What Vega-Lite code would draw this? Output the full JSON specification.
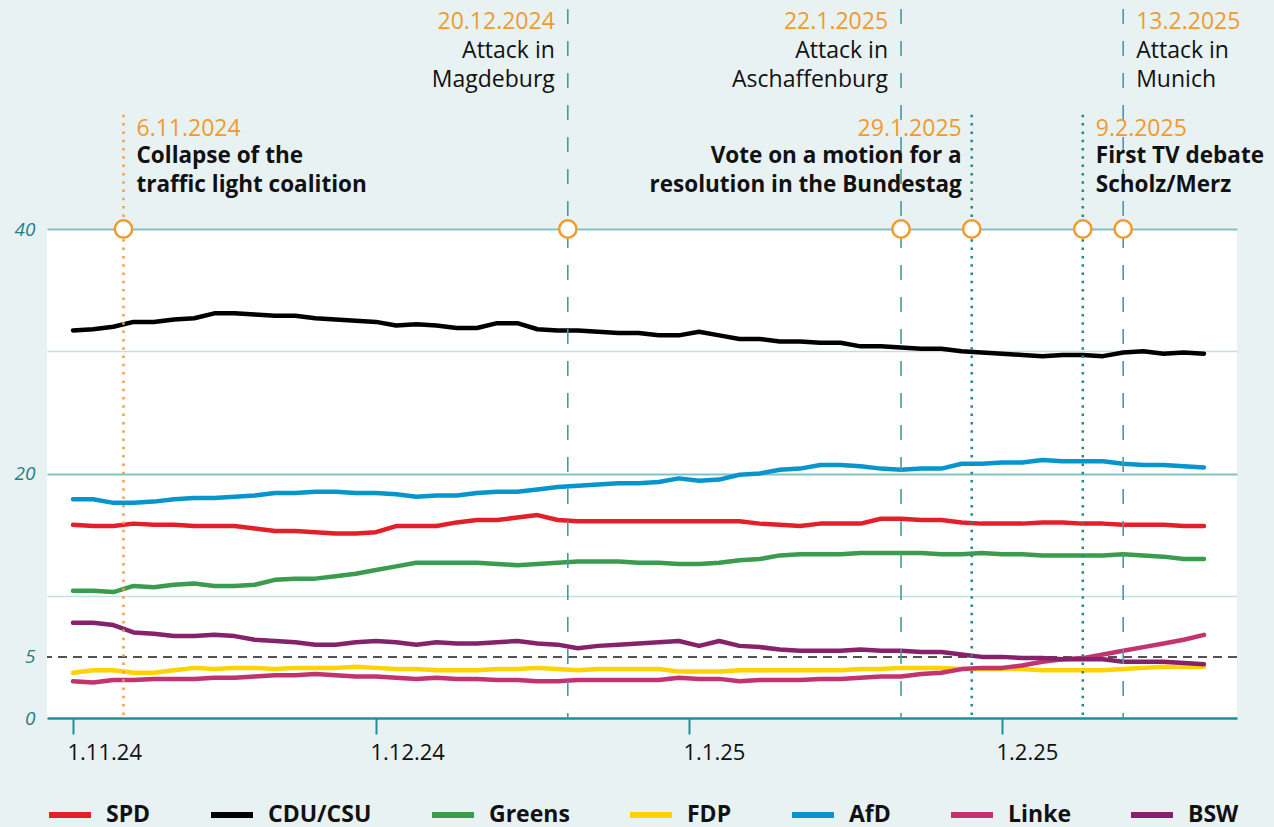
{
"$schema": "https://vega.github.io/schema/vega-lite/v6.json",
"width": 1190,
"height": 489,
"autosize": {"type": "none"},
"padding": {"left": 47, "top": 229, "right": 37, "bottom": 109},
"background": "#e8f2f3",
"config": {"font": "Open Sans", "view": {"fill": "#ffffff", "stroke": null}},
"datasets": {
"events": [
{"date": "2024-11-06", "label": "6.11.2024", "text": "Collapse of the\ntraffic light coalition", "type": "political"},
{"date": "2024-12-20", "label": "20.12.2024", "text": "Attack in\nMagdeburg", "type": "attack"},
{"date": "2025-01-22", "label": "22.1.2025", "text": "Attack in\nAschaffenburg", "type": "attack"},
{"date": "2025-01-29", "label": "29.1.2025", "text": "Vote on a motion for a\nresolution in the Bundestag", "type": "political"},
{"date": "2025-02-09", "label": "9.2.2025", "text": "First TV debate\nScholz/Merz", "type": "political"},
{"date": "2025-02-13", "label": "13.2.2025", "text": "Attack in\nMunich", "type": "attack"}
],
"polls": [
{"date":"2024-11-01","party":"SPD","value":15.8},{"date":"2024-11-01","party":"CDU/CSU","value":31.7},{"date":"2024-11-01","party":"Greens","value":10.4},{"date":"2024-11-01","party":"FDP","value":3.7},{"date":"2024-11-01","party":"AfD","value":17.9},{"date":"2024-11-01","party":"Linke","value":3.0},{"date":"2024-11-01","party":"BSW","value":7.8},
{"date":"2024-11-03","party":"SPD","value":15.7},{"date":"2024-11-03","party":"CDU/CSU","value":31.8},{"date":"2024-11-03","party":"Greens","value":10.4},{"date":"2024-11-03","party":"FDP","value":3.9},{"date":"2024-11-03","party":"AfD","value":17.9},{"date":"2024-11-03","party":"Linke","value":2.9},{"date":"2024-11-03","party":"BSW","value":7.8},
{"date":"2024-11-05","party":"SPD","value":15.7},{"date":"2024-11-05","party":"CDU/CSU","value":32.0},{"date":"2024-11-05","party":"Greens","value":10.3},{"date":"2024-11-05","party":"FDP","value":3.9},{"date":"2024-11-05","party":"AfD","value":17.6},{"date":"2024-11-05","party":"Linke","value":3.1},{"date":"2024-11-05","party":"BSW","value":7.6},
{"date":"2024-11-07","party":"SPD","value":15.9},{"date":"2024-11-07","party":"CDU/CSU","value":32.4},{"date":"2024-11-07","party":"Greens","value":10.8},{"date":"2024-11-07","party":"FDP","value":3.7},{"date":"2024-11-07","party":"AfD","value":17.6},{"date":"2024-11-07","party":"Linke","value":3.1},{"date":"2024-11-07","party":"BSW","value":7.0},
{"date":"2024-11-09","party":"SPD","value":15.8},{"date":"2024-11-09","party":"CDU/CSU","value":32.4},{"date":"2024-11-09","party":"Greens","value":10.7},{"date":"2024-11-09","party":"FDP","value":3.7},{"date":"2024-11-09","party":"AfD","value":17.7},{"date":"2024-11-09","party":"Linke","value":3.2},{"date":"2024-11-09","party":"BSW","value":6.9},
{"date":"2024-11-11","party":"SPD","value":15.8},{"date":"2024-11-11","party":"CDU/CSU","value":32.6},{"date":"2024-11-11","party":"Greens","value":10.9},{"date":"2024-11-11","party":"FDP","value":3.9},{"date":"2024-11-11","party":"AfD","value":17.9},{"date":"2024-11-11","party":"Linke","value":3.2},{"date":"2024-11-11","party":"BSW","value":6.7},
{"date":"2024-11-13","party":"SPD","value":15.7},{"date":"2024-11-13","party":"CDU/CSU","value":32.7},{"date":"2024-11-13","party":"Greens","value":11.0},{"date":"2024-11-13","party":"FDP","value":4.1},{"date":"2024-11-13","party":"AfD","value":18.0},{"date":"2024-11-13","party":"Linke","value":3.2},{"date":"2024-11-13","party":"BSW","value":6.7},
{"date":"2024-11-15","party":"SPD","value":15.7},{"date":"2024-11-15","party":"CDU/CSU","value":33.1},{"date":"2024-11-15","party":"Greens","value":10.8},{"date":"2024-11-15","party":"FDP","value":4.0},{"date":"2024-11-15","party":"AfD","value":18.0},{"date":"2024-11-15","party":"Linke","value":3.3},{"date":"2024-11-15","party":"BSW","value":6.8},
{"date":"2024-11-17","party":"SPD","value":15.7},{"date":"2024-11-17","party":"CDU/CSU","value":33.1},{"date":"2024-11-17","party":"Greens","value":10.8},{"date":"2024-11-17","party":"FDP","value":4.1},{"date":"2024-11-17","party":"AfD","value":18.1},{"date":"2024-11-17","party":"Linke","value":3.3},{"date":"2024-11-17","party":"BSW","value":6.7},
{"date":"2024-11-19","party":"SPD","value":15.5},{"date":"2024-11-19","party":"CDU/CSU","value":33.0},{"date":"2024-11-19","party":"Greens","value":10.9},{"date":"2024-11-19","party":"FDP","value":4.1},{"date":"2024-11-19","party":"AfD","value":18.2},{"date":"2024-11-19","party":"Linke","value":3.4},{"date":"2024-11-19","party":"BSW","value":6.4},
{"date":"2024-11-21","party":"SPD","value":15.3},{"date":"2024-11-21","party":"CDU/CSU","value":32.9},{"date":"2024-11-21","party":"Greens","value":11.3},{"date":"2024-11-21","party":"FDP","value":4.0},{"date":"2024-11-21","party":"AfD","value":18.4},{"date":"2024-11-21","party":"Linke","value":3.5},{"date":"2024-11-21","party":"BSW","value":6.3},
{"date":"2024-11-23","party":"SPD","value":15.3},{"date":"2024-11-23","party":"CDU/CSU","value":32.9},{"date":"2024-11-23","party":"Greens","value":11.4},{"date":"2024-11-23","party":"FDP","value":4.1},{"date":"2024-11-23","party":"AfD","value":18.4},{"date":"2024-11-23","party":"Linke","value":3.5},{"date":"2024-11-23","party":"BSW","value":6.2},
{"date":"2024-11-25","party":"SPD","value":15.2},{"date":"2024-11-25","party":"CDU/CSU","value":32.7},{"date":"2024-11-25","party":"Greens","value":11.4},{"date":"2024-11-25","party":"FDP","value":4.1},{"date":"2024-11-25","party":"AfD","value":18.5},{"date":"2024-11-25","party":"Linke","value":3.6},{"date":"2024-11-25","party":"BSW","value":6.0},
{"date":"2024-11-27","party":"SPD","value":15.1},{"date":"2024-11-27","party":"CDU/CSU","value":32.6},{"date":"2024-11-27","party":"Greens","value":11.6},{"date":"2024-11-27","party":"FDP","value":4.1},{"date":"2024-11-27","party":"AfD","value":18.5},{"date":"2024-11-27","party":"Linke","value":3.5},{"date":"2024-11-27","party":"BSW","value":6.0},
{"date":"2024-11-29","party":"SPD","value":15.1},{"date":"2024-11-29","party":"CDU/CSU","value":32.5},{"date":"2024-11-29","party":"Greens","value":11.8},{"date":"2024-11-29","party":"FDP","value":4.2},{"date":"2024-11-29","party":"AfD","value":18.4},{"date":"2024-11-29","party":"Linke","value":3.4},{"date":"2024-11-29","party":"BSW","value":6.2},
{"date":"2024-12-01","party":"SPD","value":15.2},{"date":"2024-12-01","party":"CDU/CSU","value":32.4},{"date":"2024-12-01","party":"Greens","value":12.1},{"date":"2024-12-01","party":"FDP","value":4.1},{"date":"2024-12-01","party":"AfD","value":18.4},{"date":"2024-12-01","party":"Linke","value":3.4},{"date":"2024-12-01","party":"BSW","value":6.3},
{"date":"2024-12-03","party":"SPD","value":15.7},{"date":"2024-12-03","party":"CDU/CSU","value":32.1},{"date":"2024-12-03","party":"Greens","value":12.4},{"date":"2024-12-03","party":"FDP","value":4.0},{"date":"2024-12-03","party":"AfD","value":18.3},{"date":"2024-12-03","party":"Linke","value":3.3},{"date":"2024-12-03","party":"BSW","value":6.2},
{"date":"2024-12-05","party":"SPD","value":15.7},{"date":"2024-12-05","party":"CDU/CSU","value":32.2},{"date":"2024-12-05","party":"Greens","value":12.7},{"date":"2024-12-05","party":"FDP","value":4.0},{"date":"2024-12-05","party":"AfD","value":18.1},{"date":"2024-12-05","party":"Linke","value":3.2},{"date":"2024-12-05","party":"BSW","value":6.0},
{"date":"2024-12-07","party":"SPD","value":15.7},{"date":"2024-12-07","party":"CDU/CSU","value":32.1},{"date":"2024-12-07","party":"Greens","value":12.7},{"date":"2024-12-07","party":"FDP","value":3.9},{"date":"2024-12-07","party":"AfD","value":18.2},{"date":"2024-12-07","party":"Linke","value":3.3},{"date":"2024-12-07","party":"BSW","value":6.2},
{"date":"2024-12-09","party":"SPD","value":16.0},{"date":"2024-12-09","party":"CDU/CSU","value":31.9},{"date":"2024-12-09","party":"Greens","value":12.7},{"date":"2024-12-09","party":"FDP","value":3.9},{"date":"2024-12-09","party":"AfD","value":18.2},{"date":"2024-12-09","party":"Linke","value":3.2},{"date":"2024-12-09","party":"BSW","value":6.1},
{"date":"2024-12-11","party":"SPD","value":16.2},{"date":"2024-12-11","party":"CDU/CSU","value":31.9},{"date":"2024-12-11","party":"Greens","value":12.7},{"date":"2024-12-11","party":"FDP","value":3.9},{"date":"2024-12-11","party":"AfD","value":18.4},{"date":"2024-12-11","party":"Linke","value":3.2},{"date":"2024-12-11","party":"BSW","value":6.1},
{"date":"2024-12-13","party":"SPD","value":16.2},{"date":"2024-12-13","party":"CDU/CSU","value":32.3},{"date":"2024-12-13","party":"Greens","value":12.6},{"date":"2024-12-13","party":"FDP","value":4.0},{"date":"2024-12-13","party":"AfD","value":18.5},{"date":"2024-12-13","party":"Linke","value":3.1},{"date":"2024-12-13","party":"BSW","value":6.2},
{"date":"2024-12-15","party":"SPD","value":16.4},{"date":"2024-12-15","party":"CDU/CSU","value":32.3},{"date":"2024-12-15","party":"Greens","value":12.5},{"date":"2024-12-15","party":"FDP","value":4.0},{"date":"2024-12-15","party":"AfD","value":18.5},{"date":"2024-12-15","party":"Linke","value":3.1},{"date":"2024-12-15","party":"BSW","value":6.3},
{"date":"2024-12-17","party":"SPD","value":16.6},{"date":"2024-12-17","party":"CDU/CSU","value":31.8},{"date":"2024-12-17","party":"Greens","value":12.6},{"date":"2024-12-17","party":"FDP","value":4.1},{"date":"2024-12-17","party":"AfD","value":18.7},{"date":"2024-12-17","party":"Linke","value":3.0},{"date":"2024-12-17","party":"BSW","value":6.1},
{"date":"2024-12-19","party":"SPD","value":16.2},{"date":"2024-12-19","party":"CDU/CSU","value":31.7},{"date":"2024-12-19","party":"Greens","value":12.7},{"date":"2024-12-19","party":"FDP","value":4.0},{"date":"2024-12-19","party":"AfD","value":18.9},{"date":"2024-12-19","party":"Linke","value":3.0},{"date":"2024-12-19","party":"BSW","value":6.0},
{"date":"2024-12-21","party":"SPD","value":16.1},{"date":"2024-12-21","party":"CDU/CSU","value":31.7},{"date":"2024-12-21","party":"Greens","value":12.8},{"date":"2024-12-21","party":"FDP","value":3.9},{"date":"2024-12-21","party":"AfD","value":19.0},{"date":"2024-12-21","party":"Linke","value":3.1},{"date":"2024-12-21","party":"BSW","value":5.7},
{"date":"2024-12-23","party":"SPD","value":16.1},{"date":"2024-12-23","party":"CDU/CSU","value":31.6},{"date":"2024-12-23","party":"Greens","value":12.8},{"date":"2024-12-23","party":"FDP","value":4.0},{"date":"2024-12-23","party":"AfD","value":19.1},{"date":"2024-12-23","party":"Linke","value":3.1},{"date":"2024-12-23","party":"BSW","value":5.9},
{"date":"2024-12-25","party":"SPD","value":16.1},{"date":"2024-12-25","party":"CDU/CSU","value":31.5},{"date":"2024-12-25","party":"Greens","value":12.8},{"date":"2024-12-25","party":"FDP","value":4.0},{"date":"2024-12-25","party":"AfD","value":19.2},{"date":"2024-12-25","party":"Linke","value":3.1},{"date":"2024-12-25","party":"BSW","value":6.0},
{"date":"2024-12-27","party":"SPD","value":16.1},{"date":"2024-12-27","party":"CDU/CSU","value":31.5},{"date":"2024-12-27","party":"Greens","value":12.7},{"date":"2024-12-27","party":"FDP","value":4.0},{"date":"2024-12-27","party":"AfD","value":19.2},{"date":"2024-12-27","party":"Linke","value":3.1},{"date":"2024-12-27","party":"BSW","value":6.1},
{"date":"2024-12-29","party":"SPD","value":16.1},{"date":"2024-12-29","party":"CDU/CSU","value":31.3},{"date":"2024-12-29","party":"Greens","value":12.7},{"date":"2024-12-29","party":"FDP","value":4.0},{"date":"2024-12-29","party":"AfD","value":19.3},{"date":"2024-12-29","party":"Linke","value":3.1},{"date":"2024-12-29","party":"BSW","value":6.2},
{"date":"2024-12-31","party":"SPD","value":16.1},{"date":"2024-12-31","party":"CDU/CSU","value":31.3},{"date":"2024-12-31","party":"Greens","value":12.6},{"date":"2024-12-31","party":"FDP","value":3.8},{"date":"2024-12-31","party":"AfD","value":19.6},{"date":"2024-12-31","party":"Linke","value":3.3},{"date":"2024-12-31","party":"BSW","value":6.3},
{"date":"2025-01-02","party":"SPD","value":16.1},{"date":"2025-01-02","party":"CDU/CSU","value":31.6},{"date":"2025-01-02","party":"Greens","value":12.6},{"date":"2025-01-02","party":"FDP","value":3.8},{"date":"2025-01-02","party":"AfD","value":19.4},{"date":"2025-01-02","party":"Linke","value":3.2},{"date":"2025-01-02","party":"BSW","value":5.9},
{"date":"2025-01-04","party":"SPD","value":16.1},{"date":"2025-01-04","party":"CDU/CSU","value":31.3},{"date":"2025-01-04","party":"Greens","value":12.7},{"date":"2025-01-04","party":"FDP","value":3.8},{"date":"2025-01-04","party":"AfD","value":19.5},{"date":"2025-01-04","party":"Linke","value":3.2},{"date":"2025-01-04","party":"BSW","value":6.3},
{"date":"2025-01-06","party":"SPD","value":16.1},{"date":"2025-01-06","party":"CDU/CSU","value":31.0},{"date":"2025-01-06","party":"Greens","value":12.9},{"date":"2025-01-06","party":"FDP","value":3.9},{"date":"2025-01-06","party":"AfD","value":19.9},{"date":"2025-01-06","party":"Linke","value":3.0},{"date":"2025-01-06","party":"BSW","value":5.9},
{"date":"2025-01-08","party":"SPD","value":15.9},{"date":"2025-01-08","party":"CDU/CSU","value":31.0},{"date":"2025-01-08","party":"Greens","value":13.0},{"date":"2025-01-08","party":"FDP","value":3.9},{"date":"2025-01-08","party":"AfD","value":20.0},{"date":"2025-01-08","party":"Linke","value":3.1},{"date":"2025-01-08","party":"BSW","value":5.8},
{"date":"2025-01-10","party":"SPD","value":15.8},{"date":"2025-01-10","party":"CDU/CSU","value":30.8},{"date":"2025-01-10","party":"Greens","value":13.3},{"date":"2025-01-10","party":"FDP","value":3.9},{"date":"2025-01-10","party":"AfD","value":20.3},{"date":"2025-01-10","party":"Linke","value":3.1},{"date":"2025-01-10","party":"BSW","value":5.6},
{"date":"2025-01-12","party":"SPD","value":15.7},{"date":"2025-01-12","party":"CDU/CSU","value":30.8},{"date":"2025-01-12","party":"Greens","value":13.4},{"date":"2025-01-12","party":"FDP","value":3.9},{"date":"2025-01-12","party":"AfD","value":20.4},{"date":"2025-01-12","party":"Linke","value":3.1},{"date":"2025-01-12","party":"BSW","value":5.5},
{"date":"2025-01-14","party":"SPD","value":15.9},{"date":"2025-01-14","party":"CDU/CSU","value":30.7},{"date":"2025-01-14","party":"Greens","value":13.4},{"date":"2025-01-14","party":"FDP","value":3.9},{"date":"2025-01-14","party":"AfD","value":20.7},{"date":"2025-01-14","party":"Linke","value":3.2},{"date":"2025-01-14","party":"BSW","value":5.5},
{"date":"2025-01-16","party":"SPD","value":15.9},{"date":"2025-01-16","party":"CDU/CSU","value":30.7},{"date":"2025-01-16","party":"Greens","value":13.4},{"date":"2025-01-16","party":"FDP","value":3.9},{"date":"2025-01-16","party":"AfD","value":20.7},{"date":"2025-01-16","party":"Linke","value":3.2},{"date":"2025-01-16","party":"BSW","value":5.5},
{"date":"2025-01-18","party":"SPD","value":15.9},{"date":"2025-01-18","party":"CDU/CSU","value":30.4},{"date":"2025-01-18","party":"Greens","value":13.5},{"date":"2025-01-18","party":"FDP","value":4.0},{"date":"2025-01-18","party":"AfD","value":20.6},{"date":"2025-01-18","party":"Linke","value":3.3},{"date":"2025-01-18","party":"BSW","value":5.6},
{"date":"2025-01-20","party":"SPD","value":16.3},{"date":"2025-01-20","party":"CDU/CSU","value":30.4},{"date":"2025-01-20","party":"Greens","value":13.5},{"date":"2025-01-20","party":"FDP","value":4.0},{"date":"2025-01-20","party":"AfD","value":20.4},{"date":"2025-01-20","party":"Linke","value":3.4},{"date":"2025-01-20","party":"BSW","value":5.5},
{"date":"2025-01-22","party":"SPD","value":16.3},{"date":"2025-01-22","party":"CDU/CSU","value":30.3},{"date":"2025-01-22","party":"Greens","value":13.5},{"date":"2025-01-22","party":"FDP","value":4.1},{"date":"2025-01-22","party":"AfD","value":20.3},{"date":"2025-01-22","party":"Linke","value":3.4},{"date":"2025-01-22","party":"BSW","value":5.5},
{"date":"2025-01-24","party":"SPD","value":16.2},{"date":"2025-01-24","party":"CDU/CSU","value":30.2},{"date":"2025-01-24","party":"Greens","value":13.5},{"date":"2025-01-24","party":"FDP","value":4.1},{"date":"2025-01-24","party":"AfD","value":20.4},{"date":"2025-01-24","party":"Linke","value":3.6},{"date":"2025-01-24","party":"BSW","value":5.4},
{"date":"2025-01-26","party":"SPD","value":16.2},{"date":"2025-01-26","party":"CDU/CSU","value":30.2},{"date":"2025-01-26","party":"Greens","value":13.4},{"date":"2025-01-26","party":"FDP","value":4.1},{"date":"2025-01-26","party":"AfD","value":20.4},{"date":"2025-01-26","party":"Linke","value":3.7},{"date":"2025-01-26","party":"BSW","value":5.4},
{"date":"2025-01-28","party":"SPD","value":16.0},{"date":"2025-01-28","party":"CDU/CSU","value":30.0},{"date":"2025-01-28","party":"Greens","value":13.4},{"date":"2025-01-28","party":"FDP","value":4.0},{"date":"2025-01-28","party":"AfD","value":20.8},{"date":"2025-01-28","party":"Linke","value":4.0},{"date":"2025-01-28","party":"BSW","value":5.2},
{"date":"2025-01-30","party":"SPD","value":15.9},{"date":"2025-01-30","party":"CDU/CSU","value":29.9},{"date":"2025-01-30","party":"Greens","value":13.5},{"date":"2025-01-30","party":"FDP","value":4.0},{"date":"2025-01-30","party":"AfD","value":20.8},{"date":"2025-01-30","party":"Linke","value":4.1},{"date":"2025-01-30","party":"BSW","value":5.0},
{"date":"2025-02-01","party":"SPD","value":15.9},{"date":"2025-02-01","party":"CDU/CSU","value":29.8},{"date":"2025-02-01","party":"Greens","value":13.4},{"date":"2025-02-01","party":"FDP","value":4.0},{"date":"2025-02-01","party":"AfD","value":20.9},{"date":"2025-02-01","party":"Linke","value":4.1},{"date":"2025-02-01","party":"BSW","value":5.0},
{"date":"2025-02-03","party":"SPD","value":15.9},{"date":"2025-02-03","party":"CDU/CSU","value":29.7},{"date":"2025-02-03","party":"Greens","value":13.4},{"date":"2025-02-03","party":"FDP","value":4.0},{"date":"2025-02-03","party":"AfD","value":20.9},{"date":"2025-02-03","party":"Linke","value":4.3},{"date":"2025-02-03","party":"BSW","value":4.9},
{"date":"2025-02-05","party":"SPD","value":16.0},{"date":"2025-02-05","party":"CDU/CSU","value":29.6},{"date":"2025-02-05","party":"Greens","value":13.3},{"date":"2025-02-05","party":"FDP","value":3.9},{"date":"2025-02-05","party":"AfD","value":21.1},{"date":"2025-02-05","party":"Linke","value":4.6},{"date":"2025-02-05","party":"BSW","value":4.9},
{"date":"2025-02-07","party":"SPD","value":16.0},{"date":"2025-02-07","party":"CDU/CSU","value":29.7},{"date":"2025-02-07","party":"Greens","value":13.3},{"date":"2025-02-07","party":"FDP","value":3.9},{"date":"2025-02-07","party":"AfD","value":21.0},{"date":"2025-02-07","party":"Linke","value":4.8},{"date":"2025-02-07","party":"BSW","value":4.8},
{"date":"2025-02-09","party":"SPD","value":15.9},{"date":"2025-02-09","party":"CDU/CSU","value":29.7},{"date":"2025-02-09","party":"Greens","value":13.3},{"date":"2025-02-09","party":"FDP","value":3.9},{"date":"2025-02-09","party":"AfD","value":21.0},{"date":"2025-02-09","party":"Linke","value":4.9},{"date":"2025-02-09","party":"BSW","value":4.8},
{"date":"2025-02-11","party":"SPD","value":15.9},{"date":"2025-02-11","party":"CDU/CSU","value":29.6},{"date":"2025-02-11","party":"Greens","value":13.3},{"date":"2025-02-11","party":"FDP","value":3.9},{"date":"2025-02-11","party":"AfD","value":21.0},{"date":"2025-02-11","party":"Linke","value":5.2},{"date":"2025-02-11","party":"BSW","value":4.8},
{"date":"2025-02-13","party":"SPD","value":15.8},{"date":"2025-02-13","party":"CDU/CSU","value":29.9},{"date":"2025-02-13","party":"Greens","value":13.4},{"date":"2025-02-13","party":"FDP","value":4.0},{"date":"2025-02-13","party":"AfD","value":20.8},{"date":"2025-02-13","party":"Linke","value":5.5},{"date":"2025-02-13","party":"BSW","value":4.6},
{"date":"2025-02-15","party":"SPD","value":15.8},{"date":"2025-02-15","party":"CDU/CSU","value":30.0},{"date":"2025-02-15","party":"Greens","value":13.3},{"date":"2025-02-15","party":"FDP","value":4.1},{"date":"2025-02-15","party":"AfD","value":20.7},{"date":"2025-02-15","party":"Linke","value":5.8},{"date":"2025-02-15","party":"BSW","value":4.6},
{"date":"2025-02-17","party":"SPD","value":15.8},{"date":"2025-02-17","party":"CDU/CSU","value":29.8},{"date":"2025-02-17","party":"Greens","value":13.2},{"date":"2025-02-17","party":"FDP","value":4.2},{"date":"2025-02-17","party":"AfD","value":20.7},{"date":"2025-02-17","party":"Linke","value":6.1},{"date":"2025-02-17","party":"BSW","value":4.6},
{"date":"2025-02-19","party":"SPD","value":15.7},{"date":"2025-02-19","party":"CDU/CSU","value":29.9},{"date":"2025-02-19","party":"Greens","value":13.0},{"date":"2025-02-19","party":"FDP","value":4.2},{"date":"2025-02-19","party":"AfD","value":20.6},{"date":"2025-02-19","party":"Linke","value":6.4},{"date":"2025-02-19","party":"BSW","value":4.5},
{"date":"2025-02-21","party":"SPD","value":15.7},{"date":"2025-02-21","party":"CDU/CSU","value":29.8},{"date":"2025-02-21","party":"Greens","value":13.0},{"date":"2025-02-21","party":"FDP","value":4.2},{"date":"2025-02-21","party":"AfD","value":20.5},{"date":"2025-02-21","party":"Linke","value":6.8},{"date":"2025-02-21","party":"BSW","value":4.4}
]
},
"layer": [
{
"data": {"values": [{}]},
"mark": {"type": "rule", "color": "#1a1a1a", "strokeDash": [9, 6], "strokeWidth": 1.5},
"encoding": {"y": {"datum": 5, "type": "quantitative"}}
},
{
"data": {"name": "polls"},
"mark": {"type": "line", "strokeWidth": 4.5, "strokeJoin": "round", "strokeCap": "round"},
"encoding": {
"x": {"field": "date", "type": "temporal",
"scale": {"type": "utc", "domain": [{"year": 2024, "month": 10, "date": 29, "hours": 10, "minutes": 12, "utc": true}, {"year": 2025, "month": 2, "date": 24, "hours": 6, "minutes": 30, "utc": true}]},
"axis": {"title": null, "values": [{"year": 2024, "month": 11, "date": 1, "utc": true}, {"year": 2024, "month": 12, "date": 1, "utc": true}, {"year": 2025, "month": 1, "date": 1, "utc": true}, {"year": 2025, "month": 2, "date": 1, "utc": true}],
"format": "%-d.%-m.%y", "grid": false, "domainColor": "#1d9199", "domainWidth": 2.5, "tickColor": "#1d9199", "tickWidth": 2, "tickSize": 16, "labelFontSize": 22, "labelColor": "#111111", "labelPadding": 8, "labelAlign": "left", "labelOffset": -6, "labelFlush": false, "labelOverlap": false}},
"y": {"field": "value", "type": "quantitative",
"scale": {"domain": [0, 40], "nice": false},
"axis": {"title": null, "values": [0, 5, 10, 20, 30, 40], "labelExpr": "datum.value == 10 || datum.value == 30 ? '' : datum.label",
"domain": false, "ticks": false, "tickSize": 0, "labelFontStyle": "italic", "labelColor": "#1e7f87", "labelFontSize": 19, "labelPadding": 12, "labelFlush": false, "labelOverlap": false,
"grid": true,
"gridColor": {"condition": {"test": "datum.value == 20 || datum.value == 40", "value": "#84c1c4"}, "value": "#c4dfe0"},
"gridWidth": {"condition": {"test": "datum.value == 20 || datum.value == 40", "value": 2}, "value": 1.5},
"gridOpacity": {"condition": {"test": "datum.value < 10", "value": 0}, "value": 1}}},
"color": {"field": "party", "type": "nominal",
"scale": {"domain": ["SPD", "CDU/CSU", "Greens", "FDP", "AfD", "Linke", "BSW"], "range": ["#e3202a", "#000000", "#3b9b4e", "#ffd200", "#0795cd", "#c2336f", "#86226b"]},
"legend": {"title": null, "orient": "none", "legendX": -1, "legendY": 562, "direction": "horizontal", "columns": 7, "symbolType": "stroke", "symbolSize": 1764, "symbolStrokeWidth": 6, "labelFontSize": 23, "labelFontWeight": "bold", "labelColor": "#111111", "labelOffset": 12, "columnPadding": 48, "padding": 0}}
}
},
{
"data": {"name": "events"},
"transform": [{"filter": "datum.type === 'attack'"}],
"mark": {"type": "rule", "color": "#3f9ea4", "strokeWidth": 1.6, "strokeDash": [15, 17]},
"encoding": {"x": {"field": "date", "type": "temporal"}, "y": {"datum": 58}, "y2": {"datum": 0}}
},
{
"data": {"name": "events"},
"transform": [{"filter": "datum.type === 'political' && datum.label !== '6.11.2024'"}],
"mark": {"type": "rule", "color": "#1f8a90", "strokeWidth": 2.5, "strokeDash": [2.5, 5.8]},
"encoding": {"x": {"field": "date", "type": "temporal"}, "y": {"datum": 49.34}, "y2": {"datum": 0}}
},
{
"data": {"name": "events"},
"transform": [{"filter": "datum.label === '6.11.2024'"}],
"mark": {"type": "rule", "color": "#f4a03c", "strokeWidth": 2.5, "strokeDash": [2.5, 5.8]},
"encoding": {"x": {"field": "date", "type": "temporal"}, "y": {"datum": 49.34}, "y2": {"datum": 0}}
},
{
"data": {"name": "events"},
"mark": {"type": "point", "shape": "circle", "filled": true, "fill": "#ffffff", "stroke": "#f39a2b", "strokeWidth": 2.5, "size": 300, "opacity": 1},
"encoding": {"x": {"field": "date", "type": "temporal"}, "y": {"datum": 40}}
},
{
"data": {"name": "events"},
"transform": [{"filter": {"field": "label", "oneOf": ["20.12.2024", "22.1.2025"]}}],
"mark": {"type": "text", "align": "right", "baseline": "middle", "dx": -13, "fontSize": 23, "color": "#f29a2e"},
"encoding": {"x": {"field": "date", "type": "temporal"}, "y": {"datum": 56.9}, "text": {"field": "label"}}
},
{
"data": {"name": "events"},
"transform": [{"filter": {"field": "label", "oneOf": ["13.2.2025"]}}],
"mark": {"type": "text", "align": "left", "baseline": "middle", "dx": 13, "fontSize": 23, "color": "#f29a2e"},
"encoding": {"x": {"field": "date", "type": "temporal"}, "y": {"datum": 56.9}, "text": {"field": "label"}}
},
{
"data": {"name": "events"},
"transform": [{"filter": {"field": "label", "oneOf": ["29.1.2025"]}}],
"mark": {"type": "text", "align": "right", "baseline": "middle", "dx": -10, "fontSize": 23, "color": "#f29a2e"},
"encoding": {"x": {"field": "date", "type": "temporal"}, "y": {"datum": 48.2}, "text": {"field": "label"}}
},
{
"data": {"name": "events"},
"transform": [{"filter": {"field": "label", "oneOf": ["6.11.2024", "9.2.2025"]}}],
"mark": {"type": "text", "align": "left", "baseline": "middle", "dx": 13, "fontSize": 23, "color": "#f29a2e"},
"encoding": {"x": {"field": "date", "type": "temporal"}, "y": {"datum": 48.2}, "text": {"field": "label"}}
},
{
"data": {"name": "events"},
"transform": [{"filter": {"field": "label", "oneOf": ["20.12.2024", "22.1.2025"]}}],
"mark": {"type": "text", "align": "right", "baseline": "middle", "dx": -13, "fontSize": 23, "color": "#111111", "lineBreak": "\n", "lineHeight": 29},
"encoding": {"x": {"field": "date", "type": "temporal"}, "y": {"datum": 54.59}, "text": {"field": "text"}}
},
{
"data": {"name": "events"},
"transform": [{"filter": {"field": "label", "oneOf": ["13.2.2025"]}}],
"mark": {"type": "text", "align": "left", "baseline": "middle", "dx": 13, "fontSize": 23, "color": "#111111", "lineBreak": "\n", "lineHeight": 29},
"encoding": {"x": {"field": "date", "type": "temporal"}, "y": {"datum": 54.59}, "text": {"field": "text"}}
},
{
"data": {"name": "events"},
"transform": [{"filter": {"field": "label", "oneOf": ["29.1.2025"]}}],
"mark": {"type": "text", "align": "right", "baseline": "middle", "dx": -10, "fontSize": 22.5, "fontWeight": "bold", "color": "#111111", "lineBreak": "\n", "lineHeight": 29},
"encoding": {"x": {"field": "date", "type": "temporal"}, "y": {"datum": 45.98}, "text": {"field": "text"}}
},
{
"data": {"name": "events"},
"transform": [{"filter": {"field": "label", "oneOf": ["6.11.2024", "9.2.2025"]}}],
"mark": {"type": "text", "align": "left", "baseline": "middle", "dx": 13, "fontSize": 22.5, "fontWeight": "bold", "color": "#111111", "lineBreak": "\n", "lineHeight": 29},
"encoding": {"x": {"field": "date", "type": "temporal"}, "y": {"datum": 45.98}, "text": {"field": "text"}}
}
]
}
